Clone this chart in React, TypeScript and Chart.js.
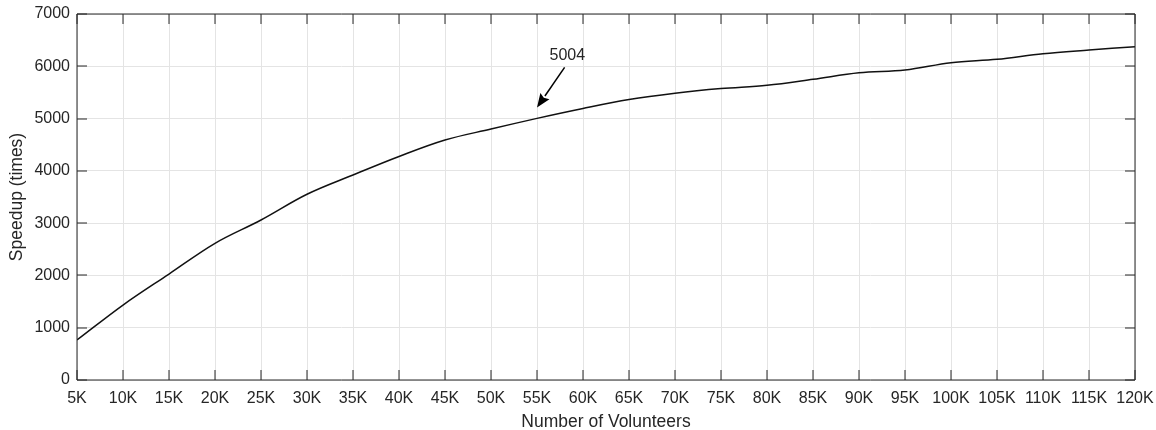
import React, { useEffect, useRef } from "react";
import { Chart, registerables } from "chart.js";

Chart.register(...registerables);

// ---- Data ----
const VOLUNTEERS = [
  5000, 10000, 15000, 20000, 25000, 30000, 35000, 40000, 45000, 50000, 55000, 60000,
  65000, 70000, 75000, 80000, 85000, 90000, 95000, 100000, 105000, 110000, 115000, 120000,
];
const X_TICK_LABELS = [
  "5K", "10K", "15K", "20K", "25K", "30K", "35K", "40K", "45K", "50K", "55K", "60K",
  "65K", "70K", "75K", "80K", "85K", "90K", "95K", "100K", "105K", "110K", "115K", "120K",
];
const SPEEDUP = [
  765, 1434, 2027, 2614, 3060, 3552, 3921, 4275, 4590, 4800, 5004, 5193,
  5363, 5484, 5573, 5636, 5751, 5877, 5929, 6069, 6133, 6240, 6311, 6375,
];
const Y_TICKS = [0, 1000, 2000, 3000, 4000, 5000, 6000, 7000];
const Y_TICK_LABELS = ["0", "1000", "2000", "3000", "4000", "5000", "6000", "7000"];

const X_TITLE = "Number of Volunteers";
const Y_TITLE = "Speedup (times)";

// annotation (data coordinates)
const ANNOT_TEXT = "5004";
const ANNOT_TEXT_POS = { x: 58300, y: 6200 };
const ANNOT_TAIL = { x: 58000, y: 5980 };
const ANNOT_TIP = { x: 55000, y: 5210 };

const TEXT_COLOR = "#262626";
const FONT_FAMILY = "Arial, 'Liberation Sans', Helvetica, sans-serif";

const boxPlugin = {
  id: "matlabBox",
  afterDatasetsDraw(chart: any) {
    const { ctx, chartArea } = chart;
    const xs = chart.scales.x;
    const ys = chart.scales.y;
    const { left, right, top, bottom } = chartArea;
    const L = Math.round(left);
    const R = Math.round(right);
    const T = Math.round(top);
    const B = Math.round(bottom);
    ctx.save();
    ctx.strokeStyle = TEXT_COLOR;
    ctx.lineWidth = 1;
    ctx.beginPath();
    ctx.rect(L, T, R - L, B - T);
    ctx.stroke();
    const tl = 10;
    ctx.beginPath();
    for (const v of VOLUNTEERS) {
      const px = Math.round(xs.getPixelForValue(v));
      ctx.moveTo(px, B);
      ctx.lineTo(px, B - tl);
      ctx.moveTo(px, T);
      ctx.lineTo(px, T + tl);
    }
    for (const v of Y_TICKS) {
      const py = Math.round(ys.getPixelForValue(v));
      ctx.moveTo(L, py);
      ctx.lineTo(L + tl, py);
      ctx.moveTo(R, py);
      ctx.lineTo(R - tl, py);
    }
    ctx.stroke();

    // annotation
    const tx = xs.getPixelForValue(ANNOT_TEXT_POS.x);
    const ty = ys.getPixelForValue(ANNOT_TEXT_POS.y);
    ctx.fillStyle = TEXT_COLOR;
    ctx.font = `16px ${FONT_FAMILY}`;
    ctx.textAlign = "center";
    ctx.textBaseline = "middle";
    ctx.fillText(ANNOT_TEXT, tx, ty);

    const ax = xs.getPixelForValue(ANNOT_TAIL.x);
    const ay = ys.getPixelForValue(ANNOT_TAIL.y);
    const bx = xs.getPixelForValue(ANNOT_TIP.x);
    const by = ys.getPixelForValue(ANNOT_TIP.y);
    const ang = Math.atan2(by - ay, bx - ax);
    const headLen = 14;
    const headHalf = 5.5;
    const hx = bx - headLen * Math.cos(ang);
    const hy = by - headLen * Math.sin(ang);
    ctx.strokeStyle = "#000";
    ctx.lineWidth = 1.5;
    ctx.beginPath();
    ctx.moveTo(ax, ay);
    ctx.lineTo(hx, hy);
    ctx.stroke();
    ctx.fillStyle = "#000";
    ctx.beginPath();
    ctx.moveTo(bx, by);
    ctx.lineTo(hx + headHalf * Math.sin(ang), hy - headHalf * Math.cos(ang));
    ctx.lineTo(hx + 2 * Math.cos(ang), hy + 2 * Math.sin(ang));
    ctx.lineTo(hx - headHalf * Math.sin(ang), hy + headHalf * Math.cos(ang));
    ctx.closePath();
    ctx.fill();
    ctx.restore();
  },
};

export default function App() {
  const canvasRef = useRef<HTMLCanvasElement | null>(null);

  useEffect(() => {
    const canvas = canvasRef.current;
    if (!canvas) return;
    const chart = new Chart(canvas, {
      type: "line",
      data: {
        datasets: [
          {
            data: VOLUNTEERS.map((x, i) => ({ x, y: SPEEDUP[i] })),
            borderColor: "#111",
            borderWidth: 1.5,
            pointRadius: 0,
            fill: false,
            tension: 0.35,
          },
        ],
      },
      options: {
        responsive: false,
        animation: false,
        devicePixelRatio: 1,
        layout: { padding: { left: 0, top: 14, right: 21, bottom: 0 } },
        plugins: {
          legend: { display: false },
          tooltip: { enabled: false },
        },
        scales: {
          x: {
            type: "linear",
            min: VOLUNTEERS[0],
            max: VOLUNTEERS[VOLUNTEERS.length - 1],
            afterFit: (s: any) => {
              s.height = 50;
              s.paddingLeft = 0;
              s.paddingRight = 0;
            },
            afterBuildTicks: (s: any) => {
              s.ticks = VOLUNTEERS.map((v) => ({ value: v }));
            },
            ticks: {
              autoSkip: false,
              maxRotation: 0,
              minRotation: 0,
              padding: 9,
              color: TEXT_COLOR,
              font: { size: 16, family: FONT_FAMILY },
              callback: (value: any) => {
                const i = VOLUNTEERS.indexOf(Number(value));
                return i >= 0 ? X_TICK_LABELS[i] : "";
              },
            },
            grid: { color: "#e4e4e4", lineWidth: 1, drawTicks: false },
            border: { display: false },
            title: {
              display: true,
              text: X_TITLE,
              color: TEXT_COLOR,
              font: { size: 17.5, family: FONT_FAMILY, lineHeight: 1 },
              padding: { top: 0, bottom: -1 },
            },
          },
          y: {
            type: "linear",
            min: Y_TICKS[0],
            max: Y_TICKS[Y_TICKS.length - 1],
            afterFit: (s: any) => {
              s.width = 77;
              s.paddingTop = 0;
              s.paddingBottom = 0;
            },
            afterBuildTicks: (s: any) => {
              s.ticks = Y_TICKS.map((v) => ({ value: v }));
            },
            ticks: {
              padding: 7,
              color: TEXT_COLOR,
              font: { size: 16, family: FONT_FAMILY },
              callback: (value: any) => {
                const i = Y_TICKS.indexOf(Number(value));
                return i >= 0 ? Y_TICK_LABELS[i] : "";
              },
            },
            grid: { color: "#e4e4e4", lineWidth: 1, drawTicks: false },
            border: { display: false },
            title: {
              display: true,
              text: Y_TITLE,
              color: TEXT_COLOR,
              font: { size: 17.5, family: FONT_FAMILY, lineHeight: 1 },
              padding: { top: 8, bottom: 0 },
            },
          },
        },
      },
      plugins: [boxPlugin],
    } as any);
    return () => chart.destroy();
  }, []);

  return (
    <div style={{ position: "fixed", left: 0, top: 0, width: 1156, height: 430, background: "#fff" }}>
      <canvas ref={canvasRef} width={1156} height={430} style={{ display: "block" }} />
    </div>
  );
}
